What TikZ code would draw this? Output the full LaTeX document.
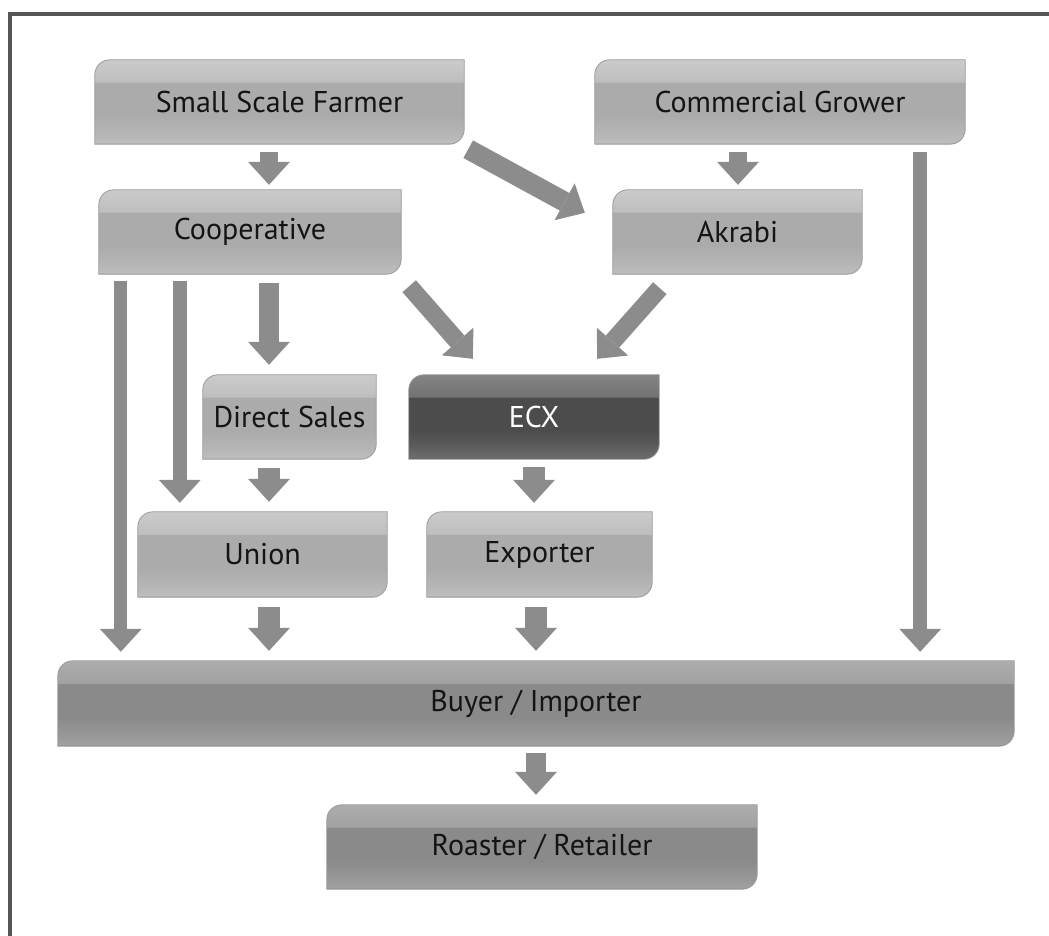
\documentclass[tikz,border=0pt]{standalone}
\usepackage{fontspec}
\setmainfont{PT Sans}
\usetikzlibrary{calc,arrows.meta,backgrounds}
\definecolor{frame}{HTML}{555555}
\definecolor{arrowgray}{HTML}{8C8C8C}
\definecolor{boxedge}{HTML}{9A9A9A}
\definecolor{txt}{HTML}{141414}
% light boxes
\definecolor{lb0}{HTML}{9C9C9C}
\definecolor{lb1}{HTML}{BDBDBD}
\definecolor{lb2}{HTML}{B5B5B5}
\definecolor{lmid}{HTML}{ABABAB}
\definecolor{lt1}{HTML}{BEBEBE}
\definecolor{lt2}{HTML}{CBCBCB}
% dark boxes
\definecolor{db0}{HTML}{808080}
\definecolor{db1}{HTML}{A0A0A0}
\definecolor{db2}{HTML}{979797}
\definecolor{dmid}{HTML}{8A8A8A}
\definecolor{dt1}{HTML}{A2A2A2}
\definecolor{dt2}{HTML}{ADADAD}
% ECX
\definecolor{eb0}{HTML}{4A4A4A}
\definecolor{eb1}{HTML}{6C6C6C}
\definecolor{eb2}{HTML}{5E5E5E}
\definecolor{emid}{HTML}{4C4C4C}
\definecolor{et1}{HTML}{727272}
\definecolor{et2}{HTML}{848484}
\pgfdeclareverticalshading{lightleaf}{100bp}{color(0bp)=(lb0); color(25bp)=(lb0); color(26bp)=(lb1); color(32bp)=(lb2); color(42bp)=(lmid); color(61.5bp)=(lmid); color(62bp)=(lt1); color(75bp)=(lt2); color(100bp)=(lt2)}
\pgfdeclareverticalshading{darkleaf}{100bp}{color(0bp)=(db0); color(25bp)=(db0); color(26bp)=(db1); color(32bp)=(db2); color(42bp)=(dmid); color(61.5bp)=(dmid); color(62bp)=(dt1); color(75bp)=(dt2); color(100bp)=(dt2)}
\pgfdeclareverticalshading{ecxleaf}{100bp}{color(0bp)=(eb0); color(25bp)=(eb0); color(26bp)=(eb1); color(32bp)=(eb2); color(42bp)=(emid); color(61.5bp)=(emid); color(62bp)=(et1); color(75bp)=(et2); color(100bp)=(et2)}
\newcommand\leafshape[2]{%
  \shadedraw[shading=#2, draw=boxedge, line width=0.8pt]
    (#1.south west) -- ($(#1.north west)+(0,15)$)
    .. controls ($(#1.north west)+(0,6.7)$) and ($(#1.north west)+(6.7,0)$) .. ($(#1.north west)+(15,0)$)
    -- (#1.north east) -- ($(#1.south east)+(0,-15)$)
    .. controls ($(#1.south east)+(0,-6.7)$) and ($(#1.south east)+(-6.7,0)$) .. ($(#1.south east)+(-15,0)$)
    -- cycle;}
\tikzset{
  lbl/.style={inner sep=0pt, font=\fontsize{30}{34}\selectfont, text=txt},
  barrow/.style={draw=arrowgray, line width=#1, line cap=butt,
    -{Triangle[width=42pt,length=23pt,line width=0pt]}},
}
\begin{document}
\begin{tikzpicture}[x=1pt,y=-1pt]
\useasboundingbox (0,0) rectangle (1049,936);
\draw[line width=4pt, frame] (10,936) -- (10,14) -- (1049,14);

% nodes
\node[lbl, minimum width=369pt, minimum height=84pt] (ssf) at (279.5,102) {Small Scale Farmer};
\node[lbl, minimum width=370pt, minimum height=84pt] (cg) at (780,102) {Commercial Grower};
\node[lbl, minimum width=302pt, minimum height=84pt] (coop) at (250,232) {Cooperative};
\node[lbl, minimum width=249pt, minimum height=84pt] (akrabi) at (737.5,232) {Akrabi};
\node[lbl, minimum width=173pt, minimum height=84pt] (ds) at (289.5,417) {Direct Sales};
\node[lbl, minimum width=250pt, minimum height=84pt, text=white] (ecx) at (534,417) {ECX};
\node[lbl, minimum width=249pt, minimum height=85pt] (union) at (262.5,554.5) {Union};
\node[lbl, minimum width=225pt, minimum height=85pt] (exporter) at (539.5,554.5) {Exporter};
\node[lbl, minimum width=956pt, minimum height=85pt] (buyer) at (536,703.5) {Buyer / Importer};
\node[lbl, minimum width=430pt, minimum height=84pt] (roaster) at (542,847) {Roaster / Retailer};

\begin{pgfonlayer}{background}
\foreach \n in {ssf,cg,coop,akrabi,ds,union,exporter}{\leafshape{\n}{lightleaf}}
\leafshape{ecx}{ecxleaf}
\leafshape{buyer}{darkleaf}
\leafshape{roaster}{darkleaf}
\end{pgfonlayer}

% connectors
\draw[barrow=18pt] ($(ssf.south)+(-10.5,8)$) -- ($(coop.north)+(19,-5)$);
\draw[barrow=20pt] ($(ssf.south east)+(4,5)$) -- ($(akrabi.north west)+(-28,23)$);
\draw[barrow=18pt] ($(cg.south)+(-42,8)$) -- ($(akrabi.north)+(0.5,-5)$);
\draw[barrow=14pt] ($(cg.south east)+(-45,8)$) -- ($(buyer.north east)+(-94,-9)$);
\draw[barrow=13pt] ($(coop.south west)+(22,7)$) -- ($(buyer.north west)+(63,-9)$);
\draw[barrow=14pt] ($(coop.south west)+(81,7)$) -- ($(union.north west)+(42,-9)$);
\draw[barrow=20pt] ($(coop.south)+(19,9)$) -- ($(ds.north)+(-20.5,-10)$);
\draw[barrow=18pt] ($(coop.south east)+(8,12)$) -- ($(ecx.north west)+(64,-16)$);
\draw[barrow=18pt] ($(akrabi.south west)+(47,14)$) -- ($(ecx.north east)+(-62,-16)$);
\draw[barrow=22pt] ($(ds.south)+(-20.5,9)$) -- ($(union.north)+(6.5,-10)$);
\draw[barrow=22pt] ($(ecx.south)+(0,8)$) -- ($(exporter.north)+(-5.5,-9)$);
\draw[barrow=22pt] ($(union.south)+(6.5,10)$) -- ($(buyer.north)+(-267,-10)$);
\draw[barrow=22pt] ($(exporter.south)+(-3.5,10)$) -- ($(buyer.north)+(0,-10)$);
\draw[barrow=20pt] ($(buyer.south)+(0,7)$) -- ($(roaster.north)+(-6,-10)$);
\end{tikzpicture}
\end{document}
